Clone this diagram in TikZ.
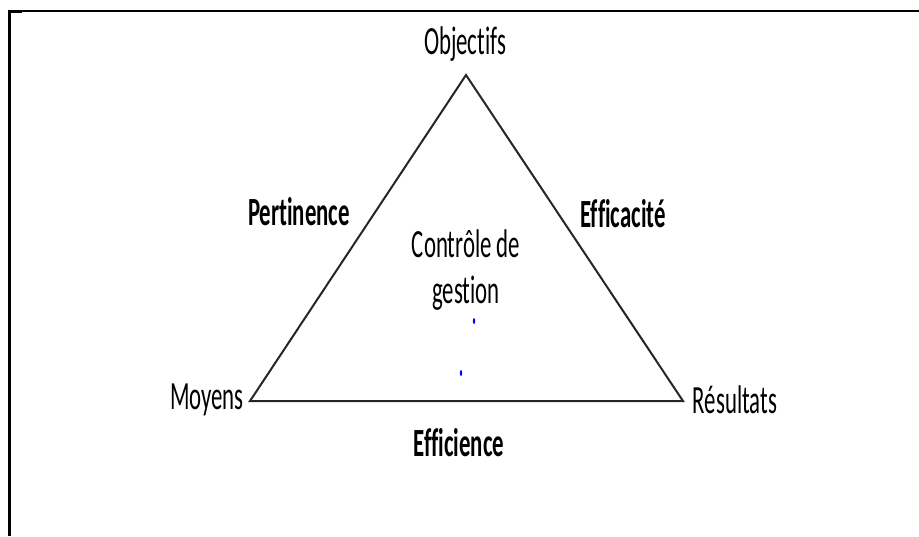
\documentclass[tikz,border=0pt]{standalone}
\usepackage{fontspec}
\setmainfont{Carlito}[FakeStretch=0.57,Ligatures=NoCommon]
\usetikzlibrary{positioning}

\tikzset{
  pole/.style={font=\fontsize{20}{23}\selectfont, inner sep=0pt},
  critere/.style={font=\fontsize{20}{23}\selectfont\bfseries, inner sep=0pt},
  cote/.style={line width=1pt, draw=black!85},
}

\begin{document}
\begin{tikzpicture}[x=0.5pt,y=-0.5pt]
	\useasboundingbox (0,0) rectangle (919,536);
	% cadre
	\draw[line width=0.75pt] (8,11) -- (919,11);
	\draw[line width=1.5pt] (9,10) -- (9,536);
	\fill (8,10) rectangle (22,13);
	%
	\coordinate (obj) at (466,75);
	\coordinate (moy) at (250,401);
	\coordinate (res) at (683,401);
	\draw[cote] (moy) -- (obj) -- (res) -- cycle;
	%
	\node[pole] (objectifs) at (465,44) {Objectifs};
	\node[pole] (moyens) at (207,400) {Moyens};
	\node[pole] (resultats) at (735,400) {Résultats};
	\node[critere] (pertinence) at (299,212) {Pertinence};
	\node[critere] (efficacite) at (623,214) {Efficacité};
	\node[critere] (efficience) at (459,443) {Efficience};
	\node[pole, align=center] (controle) at (466,270) {Contrôle de\\gestion};
	%
	\fill[blue] (474,321) ellipse (1.2 and 3);
	\fill[blue] (461,373) ellipse (1.2 and 3);
\end{tikzpicture}
\end{document}
